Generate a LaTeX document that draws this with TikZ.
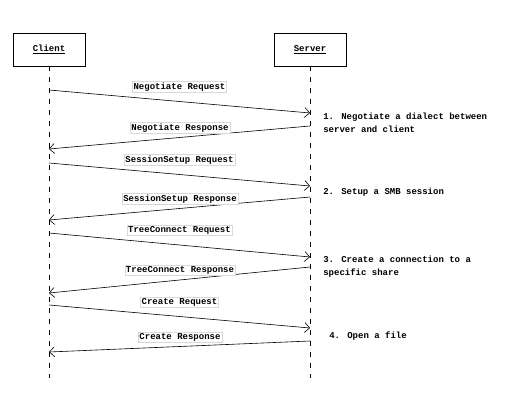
\documentclass[tikz,border=0pt]{standalone}
\usepackage{fontspec}
\newfontfamily\monof{Liberation Mono}
\usetikzlibrary{arrows.meta}
\begin{document}
\begin{tikzpicture}[x=1pt,y=-1pt, line width=0.6pt,
  txt/.style={font=\monof\bfseries\fontsize{9}{12.5}\selectfont},
  actor/.style={draw, minimum width=72pt, minimum height=33pt, inner sep=0pt, txt},
  life/.style={dash pattern=on 5pt off 6pt},
  msg/.style={-{Straight Barb[length=5pt,width=10pt]}},
  lbl/.style={draw=black!15, line width=0.4pt, fill=white, inner sep=1.2pt, txt},
  note/.style={anchor=west, align=left, inner sep=0pt, txt}
]
\useasboundingbox[fill=white] (0,0) rectangle (518,406);
\node[actor] (client) at (49,49.5) {\underline{Client}};
\node[actor] (server) at (310,49.5) {\underline{Server}};
\coordinate (cend) at (49,378);
\coordinate (send) at (310,378);
\draw[life] (client.south) -- (cend);
\draw[life] (server.south) -- (send);
% message endpoints
\coordinate (c1) at (49,90);   \coordinate (s1) at (310,113);
\coordinate (s2) at (310,126); \coordinate (c2) at (49,149);
\coordinate (c3) at (49,163);  \coordinate (s3) at (310,186);
\coordinate (s4) at (310,197); \coordinate (c4) at (49,220);
\coordinate (c5) at (49,233);  \coordinate (s5) at (310,257);
\coordinate (s6) at (310,267); \coordinate (c6) at (49,293);
\coordinate (c7) at (49,305);  \coordinate (s7) at (310,328);
\coordinate (s8) at (310,341); \coordinate (c8) at (49,352);
\draw[msg] (c1) -- (s1);
\draw[msg] (s2) -- (c2);
\draw[msg] (c3) -- (s3);
\draw[msg] (s4) -- (c4);
\draw[msg] (c5) -- (s5);
\draw[msg] (s6) -- (c6);
\draw[msg] (c7) -- (s7);
\draw[msg] (s8) -- (c8);
\node[lbl] (l1) at (179.5,87) {Negotiate Request};
\node[lbl] (l2) at (180,128) {Negotiate Response};
\node[lbl] (l3) at (179.5,160) {SessionSetup Request};
\node[lbl] (l4) at (180,199) {SessionSetup Response};
\node[lbl] (l5) at (179.5,230) {TreeConnect Request};
\node[lbl] (l6) at (180,270) {TreeConnect Response};
\node[lbl] (l7) at (179.5,302) {Create Request};
\node[lbl] (l8) at (180,337) {Create Response};
\node[note] (n1) at (323,123) {1. Negotiate a dialect between\\server and client};
\node[note] (n2) at (323,192) {2. Setup a SMB session};
\node[note] (n3) at (323,266.5) {3. Create a connection to a\\specific share};
\node[note] (n4) at (329,336) {4. Open a file};
\end{tikzpicture}
\end{document}
